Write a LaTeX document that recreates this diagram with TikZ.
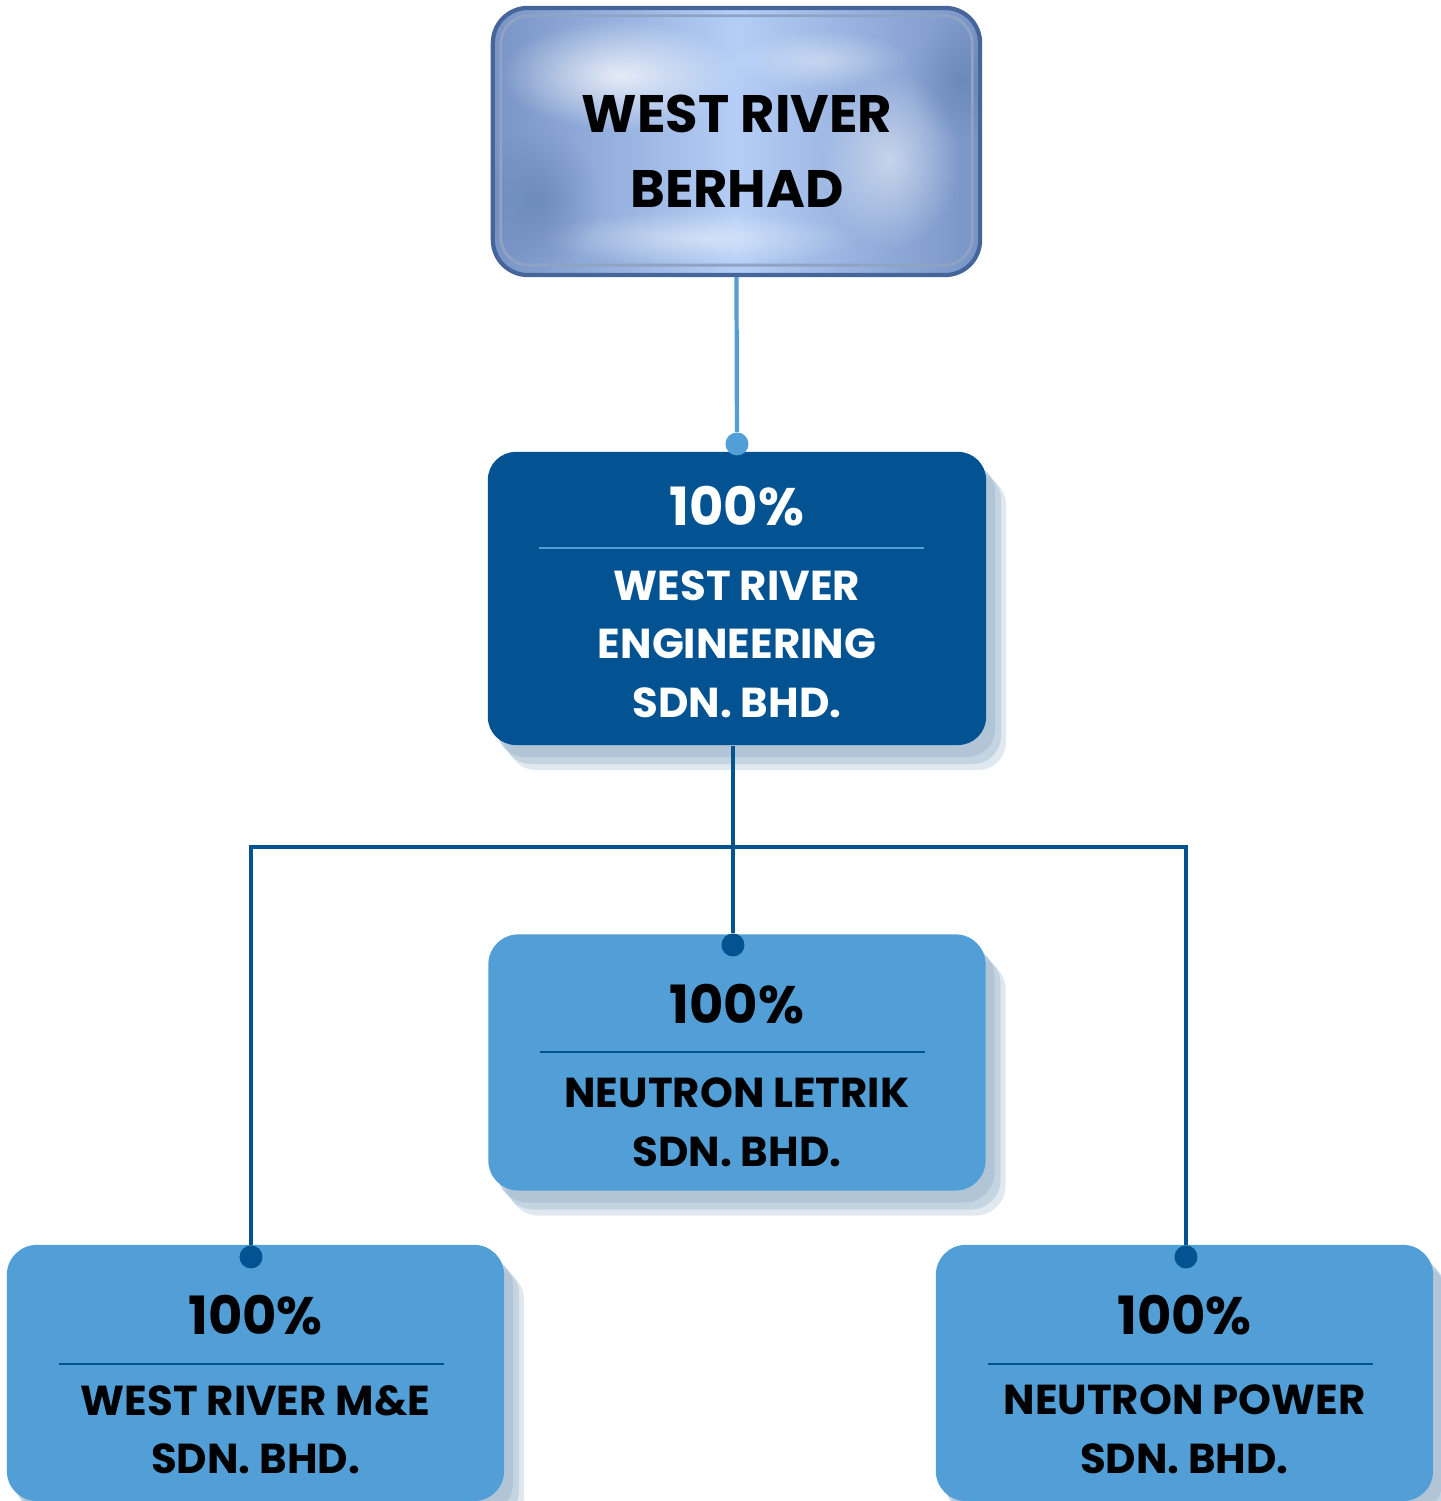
\documentclass[tikz,border=0pt]{standalone}
\usepackage{fontspec}
\setmainfont{Poppins}
\usepackage{tikz}
\usetikzlibrary{positioning, shadows, fadings}
\definecolor{navy}{HTML}{035393}
\definecolor{sky}{HTML}{519FD6}
\definecolor{steel}{HTML}{7894C6}
\definecolor{ice}{HTML}{B4CEF6}
\definecolor{rim}{HTML}{46659A}
\definecolor{haze}{HTML}{A9BFD3}
\tikzfading[name=glow, inner color=transparent!0, outer color=transparent!100]

\begin{document}
\begin{tikzpicture}[x=0.01cm, y=-0.01cm]
    % Define styles
    \tikzstyle{holdingbox} = [rectangle, rounded corners=0.35cm, minimum width=4.87cm, minimum height=2.67cm, draw=rim, line width=1.2pt, left color=steel, right color=steel, middle color=ice]
    \tikzstyle{soft} = [drop shadow={shadow xshift=0.2cm, shadow yshift=-0.25cm, fill=haze, opacity=0.35}, drop shadow={shadow xshift=0.15cm, shadow yshift=-0.19cm, fill=haze, opacity=0.5}, drop shadow={shadow xshift=0.09cm, shadow yshift=-0.12cm, fill=haze, opacity=0.7}]
    \tikzstyle{parentbox} = [rectangle, rounded corners=0.28cm, minimum width=4.98cm, minimum height=2.93cm, fill=navy, soft]
    \tikzstyle{childbox} = [rectangle, rounded corners=0.3cm, minimum width=4.97cm, minimum height=2.56cm, fill=sky, soft]
    \tikzstyle{pct} = [font=\bfseries\fontsize{15}{18}\selectfont]
    \tikzstyle{coname} = [align=center, font=\bfseries\fontsize{11.9}{16.6}\selectfont]
    \tikzstyle{joint} = [circle, fill=navy, inner sep=0pt, minimum size=0.23cm]
    \tikzstyle{link} = [line width=1.2pt, navy]

    % Holding company at top
    \node (top) [holdingbox] at (736.5, 141.5) {};
    \begin{scope}
        \clip[rounded corners=0.35cm] (top.south west) rectangle (top.north east);
        \fill[white, path fading=glow, opacity=0.75] (620, 75) ellipse (120 and 55);
        \fill[white, path fading=glow, opacity=0.5] (890, 160) ellipse (70 and 90);
        \fill[white, path fading=glow, opacity=0.45] (700, 238) ellipse (160 and 28);
        \fill[white, path fading=glow, opacity=0.4] (820, 60) ellipse (90 and 30);
        \fill[rim, path fading=glow, opacity=0.35] (540, 200) ellipse (60 and 70);
        \fill[rim, path fading=glow, opacity=0.3] (960, 80) ellipse (50 and 60);
    \end{scope}
    \draw[rim!60, line width=0.8pt, rounded corners=0.28cm] ([shift={(0.1cm,0.12cm)}]top.south west) rectangle ([shift={(-0.1cm,-0.1cm)}]top.north east);
    \node (topname) [align=center, font=\bfseries\fontsize{15}{21.3}\selectfont] at (737, 151) {WEST RIVER\\BERHAD};

    % Engineering subsidiary
    \node (eng) [parentbox] at (737, 598.5) {};
    \node (engpct) [pct, white] at (737, 506) {100\%};
    \draw[sky, line width=0.6pt] (539, 548) -- (924, 548);
    \node (engname) [coname, white] at (737, 644) {WEST RIVER\\ENGINEERING\\SDN. BHD.};

    % Second level subsidiaries
    \node (letrik) [childbox] at (737, 1062.5) {};
    \node (letrikpct) [pct] at (737, 1004) {100\%};
    \draw[navy, line width=0.6pt] (540, 1052) -- (925, 1052);
    \node (letrikname) [coname] at (737, 1122.5) {NEUTRON LETRIK\\SDN. BHD.};

    \node (mne) [childbox] at (255.5, 1373) {};
    \node (mnepct) [pct] at (255.5, 1315) {100\%};
    \draw[navy, line width=0.6pt] (59, 1364) -- (444, 1364);
    \node (mnename) [coname] at (255.5, 1429.5) {WEST RIVER M\&E\\SDN. BHD.};

    \node (power) [childbox] at (1184.5, 1373) {};
    \node (powerpct) [pct] at (1184.5, 1315) {100\%};
    \draw[navy, line width=0.6pt] (988, 1364) -- (1373, 1364);
    \node (powername) [coname] at (1184.5, 1429.5) {NEUTRON POWER\\SDN. BHD.};

    % Connector dots
    \node (dotE) [joint, fill=sky] at (737, 444) {};
    \node (dotC) [joint] at (733, 945) {};
    \node (dotL) [joint] at (251, 1257) {};
    \node (dotR) [joint] at (1186, 1257) {};
    \coordinate (hub) at (733, 847);

    % Ownership lines
    \draw [link, sky] (top.south) -- (dotE);
    \draw [link] (hub |- eng.south) -- (dotC);
    \draw [link] (dotL) |- (hub) -| (dotR);

    \useasboundingbox (0, 0) rectangle (1441, 1501);
\end{tikzpicture}
\end{document}
